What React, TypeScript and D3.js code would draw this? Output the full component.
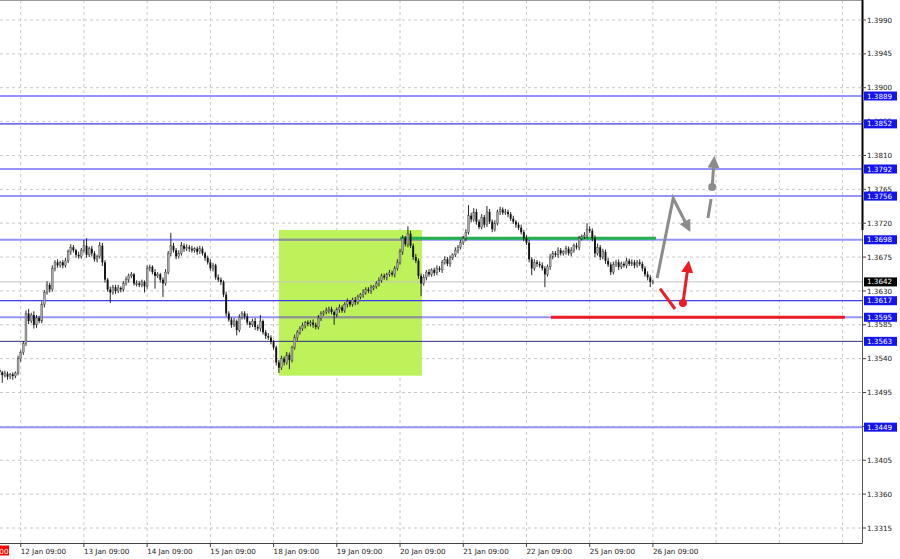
import React, { useEffect, useRef } from 'react';
import * as d3 from 'd3';

// prices are stored as pips above 1.3000 (642 -> 1.3642), one H1 bar each
const closePips = [
  522, 518, 520, 516, 519, 517, 521, 540,
  548, 560, 600, 590, 598, 585, 594, 590,
  612, 628, 638, 632, 660, 668, 664, 668,
  664, 670, 682, 688, 684, 678, 676, 684,
  690, 678, 686, 680, 672, 676, 690, 668,
  645, 632, 628, 635, 630, 634, 632, 640,
  645, 650, 652, 640, 640, 638, 642, 636,
  660, 662, 655, 650, 652, 645, 640, 655,
  680, 690, 684, 676, 680, 690, 686, 688,
  686, 684, 686, 682, 686, 680, 674, 668,
  660, 664, 648, 645, 642, 625, 600, 592,
  585, 590, 578, 595, 600, 596, 588, 585,
  590, 582, 580, 590, 575, 570, 568, 562,
  555, 535, 528, 540, 535, 545, 538, 555,
  568, 575, 580, 584, 588, 586, 588, 585,
  582, 594, 600, 602, 604, 606, 602, 598,
  605, 608, 604, 612, 616, 612, 618, 615,
  622, 625, 628, 632, 630, 634, 636, 640,
  644, 650, 648, 652, 654, 652, 660, 668,
  682, 700, 692, 706, 690, 675, 670, 650,
  640, 648, 655, 652, 658, 654, 660, 658,
  668, 672, 666, 674, 678, 684, 688, 694,
  700, 708, 730, 725, 735, 722, 715, 728,
  718, 735, 722, 712, 720, 735, 738, 734,
  735, 732, 726, 722, 718, 714, 708, 700,
  694, 672, 660, 668, 666, 664, 660, 652,
  662, 675, 680, 678, 684, 680, 682, 686,
  680, 684, 690, 688, 700, 702, 704, 712,
  710, 700, 680, 688, 675, 682, 670, 665,
  655, 665, 668, 662, 666, 664, 670, 666,
  668, 664, 668, 666, 660, 652, 648, 642,
  642,
];
const firstOpenPips = 525;

// wick lengths in pips above / below the body
const upWick = [
  3, 2, 4, 3, 2, 3, 2, 4, 3, 3, 4, 6, 3, 5, 4, 3, 4, 3, 5, 3, 4, 3, 4, 2,
  3, 4, 3, 4, 3, 2, 4, 3, 8, 10, 3, 4, 3, 2, 5, 4, 3, 2, 4, 3, 3, 4, 2, 3,
  4, 3, 3, 2, 4, 3, 3, 2, 4, 3, 2, 4, 3, 2, 3, 4, 3, 17, 4, 3, 4, 5, 3, 4,
  3, 4, 2, 3, 4, 3, 2, 3, 4, 3, 2, 4, 3, 2, 4, 3, 3, 4, 2, 4, 3, 3, 4, 2,
  3, 4, 3, 8, 2, 3, 4, 3, 3, 2, 3, 4, 3, 4, 3, 2, 4, 3, 3, 4, 2, 3, 3, 4,
  3, 4, 3, 2, 4, 3, 3, 2, 3, 4, 3, 3, 4, 2, 3, 4, 3, 2, 4, 3, 3, 4, 2, 3,
  4, 3, 3, 2, 4, 3, 3, 4, 4, 4, 3, 10, 4, 3, 4, 3, 3, 4, 3, 4, 2, 3, 4, 3,
  3, 4, 3, 3, 2, 4, 3, 4, 3, 4, 14, 4, 5, 4, 3, 4, 3, 8, 4, 3, 4, 3, 4, 3,
  4, 3, 3, 4, 2, 3, 4, 3, 4, 4, 3, 4, 3, 3, 4, 3, 3, 4, 3, 3, 4, 3, 2, 4,
  3, 4, 3, 4, 3, 3, 4, 8, 4, 3, 4, 5, 3, 4, 3, 4, 3, 4, 3, 4, 3, 3, 4, 3,
  4, 3, 3, 4, 3, 3, 4, 3, 3,
];
const downWick = [
  4, 10, 3, 4, 3, 5, 3, 3, 4, 3, 3, 4, 3, 5, 4, 3, 3, 4, 3, 4, 3, 4, 3, 3,
  4, 3, 3, 4, 3, 4, 3, 3, 3, 4, 3, 4, 3, 4, 3, 5, 4, 3, 14, 3, 4, 3, 4, 3,
  3, 4, 3, 3, 4, 3, 3, 8, 3, 4, 3, 17, 3, 4, 18, 3, 3, 4, 3, 4, 3, 3, 4, 3,
  4, 3, 3, 4, 3, 3, 4, 3, 3, 4, 3, 3, 4, 3, 4, 3, 4, 3, 7, 3, 3, 4, 3, 4,
  3, 4, 3, 4, 3, 4, 3, 3, 3, 4, 7, 3, 4, 3, 12, 3, 3, 4, 3, 3, 4, 3, 3, 4,
  3, 3, 4, 3, 3, 4, 3, 13, 3, 4, 3, 3, 4, 3, 3, 4, 3, 3, 4, 3, 3, 4, 3, 3,
  4, 3, 3, 4, 3, 3, 4, 3, 3, 4, 3, 4, 3, 4, 3, 4, 17, 3, 4, 3, 3, 4, 3, 3,
  4, 3, 3, 4, 3, 3, 4, 3, 3, 4, 3, 4, 3, 4, 3, 3, 4, 3, 3, 4, 3, 3, 4, 3,
  3, 4, 3, 3, 4, 3, 3, 4, 3, 4, 9, 3, 4, 3, 3, 17, 3, 4, 3, 3, 4, 3, 3, 4,
  3, 4, 3, 3, 4, 3, 3, 4, 3, 4, 5, 3, 4, 3, 4, 3, 4, 3, 3, 4, 3, 3, 4, 3,
  3, 4, 3, 3, 4, 3, 4, 7, 3,
];

const priceTicks = [
  1.3315, 1.336, 1.3405, 1.345, 1.3495, 1.354, 1.3585, 1.363,
  1.3675, 1.372, 1.3765, 1.381, 1.3855, 1.39, 1.3945, 1.399,
];
const dateLabels = [
  '12 Jan 09:00', '13 Jan 09:00', '14 Jan 09:00', '15 Jan 09:00', '18 Jan 09:00',
  '19 Jan 09:00', '20 Jan 09:00', '21 Jan 09:00', '22 Jan 09:00', '25 Jan 09:00',
  '26 Jan 09:00',
];
const dateLabelBars = [8, 32, 56, 80, 104, 128, 152, 176, 200, 224, 248];

// horizontal levels: price, style
const levels = [
  { price: 1.3889, kind: 'light' },
  { price: 1.3852, kind: 'blue' },
  { price: 1.3792, kind: 'light' },
  { price: 1.3756, kind: 'light' },
  { price: 1.3698, kind: 'light' },
  { price: 1.3617, kind: 'blue' },
  { price: 1.3595, kind: 'light' },
  { price: 1.3563, kind: 'navy' },
  { price: 1.3449, kind: 'light' },
];
const currentPrice = 1.3642;

// drawn objects, in (bar index, price)
const zoneBox = { from: 106, to: 160.3, top: 1.3711, bottom: 1.35174 };
const greenLine = { from: 152, to: 249.2, price: 1.37 };
const redLine = { from: 209.3, to: 320.9, price: 1.3595 };
const grayPath: [number, number][] = [[249.6, 1.3647], [255.7, 1.3753], [261.4, 1.3714]];
const grayDash: [number, number][] = [[268.9, 1.3727], [270.1, 1.3752]];
const grayDot: [number, number] = [270.5, 1.3768];
const grayArrowTip: [number, number] = [271.2, 1.3803];
const redStroke: [number, number][] = [[250.7, 1.3633], [256.4, 1.3606]];
const redDot: [number, number] = [259.4, 1.3614];
const redArrowTip: [number, number] = [261.4, 1.3664];

const W = 900;
const H = 559;
const plotRight = 862;
const plotBottom = 543;
const font = '"DejaVu Sans", sans-serif';

const App: React.FC = () => {
  const ref = useRef<SVGSVGElement | null>(null);

  useEffect(() => {
    if (!ref.current) return;
    const svg = d3.select(ref.current);
    svg.selectAll('*').remove();

    const x = d3.scaleLinear().domain([8, 248]).range([20.7, 652.9]);
    const y = d3.scaleLinear().domain([1.3315, 1.399]).range([528, 20]);
    const pip = (v: number) => 1.3 + v / 10000;
    const pt = (p: [number, number]): [number, number] => [x(p[0]), y(p[1])];

    const defs = svg.append('defs');
    defs.append('clipPath').attr('id', 'plot')
      .append('rect').attr('x', 0).attr('y', 0).attr('width', plotRight).attr('height', plotBottom);
    const marker = (id: string, color: string) => {
      defs.append('marker').attr('id', id)
        .attr('viewBox', '0 0 10 10').attr('refX', 6).attr('refY', 5)
        .attr('markerWidth', 4).attr('markerHeight', 4).attr('orient', 'auto')
        .attr('markerUnits', 'strokeWidth')
        .append('path').attr('d', 'M0,0 L10,5 L0,10 z').attr('fill', color);
    };
    marker('headGray', '#8c8c8c');
    marker('headRed', '#ed1c24');

    svg.append('rect').attr('width', W).attr('height', H).attr('fill', '#fff');

    const plot = svg.append('g').attr('clip-path', 'url(#plot)');

    // grid
    const gridBars = d3.range(8, 330, 24);
    plot.selectAll('line.vg').data(gridBars).enter().append('line')
      .attr('x1', d => x(d)).attr('x2', d => x(d)).attr('y1', 0).attr('y2', plotBottom)
      .attr('stroke', '#c8c8c8').attr('stroke-dasharray', '3,3');
    plot.selectAll('line.hg').data(priceTicks).enter().append('line')
      .attr('x1', 0).attr('x2', plotRight).attr('y1', d => y(d)).attr('y2', d => y(d))
      .attr('stroke', '#c8c8c8').attr('stroke-dasharray', '3,3');

    // zone box
    plot.append('rect')
      .attr('x', x(zoneBox.from)).attr('y', y(zoneBox.top))
      .attr('width', x(zoneBox.to) - x(zoneBox.from))
      .attr('height', y(zoneBox.bottom) - y(zoneBox.top))
      .attr('fill', '#bdf25a');

    // current price line
    plot.append('line').attr('x1', 0).attr('x2', plotRight)
      .attr('y1', y(currentPrice)).attr('y2', y(currentPrice)).attr('stroke', '#c4c4c4');

    const levelStyle: Record<string, { c: string; w: number }> = {
      light: { c: '#9494fb', w: 2 },
      blue: { c: '#3b3bef', w: 1.2 },
      navy: { c: '#2b2b85', w: 1 },
    };
    levels.forEach(l => {
      const s = levelStyle[l.kind];
      plot.append('line').attr('x1', 0).attr('x2', plotRight)
        .attr('y1', y(l.price)).attr('y2', y(l.price))
        .attr('stroke', s.c).attr('stroke-width', s.w);
      if (l.kind === 'light' && l.price < zoneBox.top && l.price > zoneBox.bottom) {
        plot.append('line').attr('x1', x(zoneBox.from)).attr('x2', x(zoneBox.to))
          .attr('y1', y(l.price)).attr('y2', y(l.price))
          .attr('stroke', '#8e9482').attr('stroke-width', 2);
      }
    });

    // trend lines
    plot.append('line').attr('x1', x(greenLine.from)).attr('x2', x(greenLine.to))
      .attr('y1', y(greenLine.price)).attr('y2', y(greenLine.price))
      .attr('stroke', '#22b14c').attr('stroke-width', 3);
    plot.append('line').attr('x1', x(redLine.from)).attr('x2', x(redLine.to))
      .attr('y1', y(redLine.price)).attr('y2', y(redLine.price))
      .attr('stroke', '#ed1c24').attr('stroke-width', 3);

    // candles
    const bars = closePips.map((c, i) => {
      const o = i === 0 ? firstOpenPips : closePips[i - 1];
      return {
        i,
        open: pip(o),
        close: pip(c),
        high: pip(Math.max(o, c) + (upWick[i] ?? 3)),
        low: pip(Math.min(o, c) - (downWick[i] ?? 3)),
      };
    });
    const cg = plot.append('g');
    cg.selectAll('line.wick').data(bars).enter().append('line')
      .attr('x1', d => x(d.i)).attr('x2', d => x(d.i))
      .attr('y1', d => y(d.high)).attr('y2', d => y(d.low))
      .attr('stroke', '#111').attr('stroke-width', 0.9);
    cg.selectAll('rect.body').data(bars).enter().append('rect')
      .attr('x', d => x(d.i) - 0.95).attr('width', 1.9)
      .attr('y', d => y(Math.max(d.open, d.close)))
      .attr('height', d => Math.max(0.8, Math.abs(y(d.open) - y(d.close))))
      .attr('fill', d => (d.close >= d.open ? '#a9a9a9' : '#111'))
      .attr('stroke', d => (d.close >= d.open ? '#444' : 'none'))
      .attr('stroke-width', 0.4);

    // forecast arrows
    const line = d3.line<[number, number]>();
    plot.append('path').attr('d', line(grayPath.map(pt)))
      .attr('fill', 'none').attr('stroke', '#8c8c8c').attr('stroke-width', 3)
      .attr('marker-end', 'url(#headGray)');
    plot.append('path').attr('d', line(grayDash.map(pt)))
      .attr('fill', 'none').attr('stroke', '#8c8c8c').attr('stroke-width', 3);
    plot.append('circle').attr('cx', pt(grayDot)[0]).attr('cy', pt(grayDot)[1]).attr('r', 4)
      .attr('fill', '#8c8c8c');
    plot.append('path').attr('d', line([pt(grayDot), pt(grayArrowTip)]))
      .attr('fill', 'none').attr('stroke', '#8c8c8c').attr('stroke-width', 3)
      .attr('marker-end', 'url(#headGray)');
    plot.append('path').attr('d', line(redStroke.map(pt)))
      .attr('fill', 'none').attr('stroke', '#ed1c24').attr('stroke-width', 3);
    plot.append('circle').attr('cx', pt(redDot)[0]).attr('cy', pt(redDot)[1]).attr('r', 4)
      .attr('fill', '#ed1c24');
    plot.append('path').attr('d', line([pt(redDot), pt(redArrowTip)]))
      .attr('fill', 'none').attr('stroke', '#ed1c24').attr('stroke-width', 3)
      .attr('marker-end', 'url(#headRed)');

    // frame
    svg.append('line').attr('x1', 0).attr('x2', plotRight).attr('y1', 0.5).attr('y2', 0.5)
      .attr('stroke', '#9a9a9a');
    svg.append('line').attr('x1', 0).attr('x2', plotRight + 0.5)
      .attr('y1', plotBottom + 0.5).attr('y2', plotBottom + 0.5).attr('stroke', '#444');
    svg.append('line').attr('x1', plotRight + 0.5).attr('x2', plotRight + 0.5)
      .attr('y1', 0).attr('y2', plotBottom).attr('stroke', '#555');
    svg.append('line').attr('x1', plotRight + 0.5).attr('x2', plotRight + 0.5)
      .attr('y1', 0).attr('y2', 230).attr('stroke', '#000').attr('stroke-width', 2);

    // price axis
    const ya = svg.append('g');
    priceTicks.forEach(p => {
      ya.append('line').attr('x1', plotRight).attr('x2', plotRight + 4)
        .attr('y1', y(p)).attr('y2', y(p)).attr('stroke', '#444');
      ya.append('text').attr('x', 867).attr('y', y(p)).attr('dy', '0.36em')
        .attr('font-family', font).attr('font-size', 7.2).attr('fill', '#222')
        .text(p.toFixed(4));
    });
    const tag = (p: number, bg: string) => {
      ya.append('rect').attr('x', 864).attr('y', y(p) - 4.5).attr('width', 33).attr('height', 9)
        .attr('fill', bg);
      ya.append('text').attr('x', 867).attr('y', y(p)).attr('dy', '0.36em')
        .attr('font-family', font).attr('font-size', 7.2).attr('fill', '#fff')
        .text(p.toFixed(4));
    };
    levels.forEach(l => tag(l.price, '#1414f0'));
    tag(currentPrice, '#000');

    // time axis
    const xa = svg.append('g');
    dateLabelBars.forEach((b, k) => {
      xa.append('line').attr('x1', x(b)).attr('x2', x(b))
        .attr('y1', plotBottom).attr('y2', plotBottom + 4).attr('stroke', '#444');
      xa.append('text').attr('x', x(b)).attr('y', 551).attr('dy', '0.36em')
        .attr('font-family', font).attr('font-size', 7.2).attr('fill', '#222')
        .text(dateLabels[k]);
    });
    xa.append('rect').attr('x', 0).attr('y', 545.5).attr('width', 9).attr('height', 10)
      .attr('fill', '#f00');
    xa.append('text').attr('x', 8.5).attr('y', 551).attr('dy', '0.36em').attr('text-anchor', 'end')
      .attr('font-family', font).attr('font-size', 7.2).attr('fill', '#fff').text('00');
  }, []);

  return (
    <svg ref={ref} width={W} height={H}
      style={{ position: 'absolute', left: 0, top: 0, display: 'block' }} />
  );
};

export default App;
